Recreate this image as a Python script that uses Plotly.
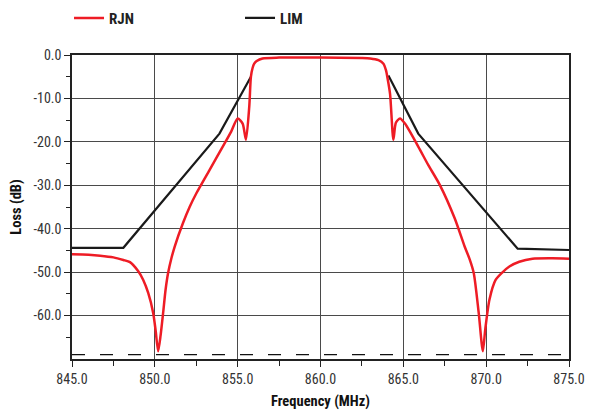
import plotly.graph_objects as go

# ---------------- data ----------------
rjn_freq = [845.0, 846.0, 846.7, 847.5, 848.1, 848.5, 849.0, 849.3, 849.6, 849.9, 850.05, 850.2,
            850.35, 850.5, 850.65, 850.8, 851.0, 851.2, 851.7, 852.1, 852.5, 853.3, 854.1, 854.6, 855.0, 855.3, 855.5,
            855.7, 855.8, 855.9, 856.0, 856.15, 856.5, 857.5, 860.0, 862.5, 863.0, 863.5, 863.8,
            863.95, 864.05, 864.2, 864.4, 864.55, 864.8, 865.1, 865.9, 866.5, 867.2, 868.1, 868.7, 869.0, 869.25,
            869.55, 869.8, 869.95, 870.2, 870.57, 871.0, 871.4, 872.0, 872.8, 874.0, 875.0]
rjn_db = [-45.9, -46.0, -46.2, -46.6, -47.2, -47.7, -49.8, -51.8, -54.8, -59.4, -63.5, -68.2,
          -64.5, -59.4, -54.0, -50.2, -46.8, -44.1, -38.7, -35.0, -31.9, -26.5, -21.1, -17.7, -14.6, -15.8, -19.5,
          -11.9, -5.0, -3.0, -2.0, -1.4, -0.8, -0.6, -0.6, -0.7, -0.8, -1.2, -2.0,
          -3.5, -5.4, -9.0, -19.5, -15.6, -14.6, -15.8, -21.1, -25.3, -29.9, -37.6, -44.1, -47.0, -50.2,
          -59.4, -68.2, -63.0, -56.3, -51.8, -50.0, -48.7, -47.6, -46.9, -46.8, -46.9]

lim_freq = [845.0, 848.1, 853.9, 855.8, None, 864.1, 865.9, 871.9, 875.0]
lim_db = [-44.4, -44.4, -18.1, -5.0, None, -4.7, -18.1, -44.6, -44.9]

spec_freq = [845.0, 875.0]
spec_db = [-69.0, -69.0]

x_tickvals = [845, 850, 855, 860, 865, 870, 875]
x_ticktext = ["845.0", "850.0", "855.0", "860.0", "865.0", "870.0", "875.0"]
y_tickvals = [0, -10, -20, -30, -40, -50, -60]
y_ticktext = ["0.0", "-10.0", "-20.0", "-30.0", "-40.0", "-50.0", "-60.0"]

FONT = "Liberation Sans Narrow, Arial Narrow, Roboto Condensed, Liberation Sans, sans-serif"
GRID = "#4a4a4a"

fig = go.Figure()
fig.add_trace(go.Scatter(x=spec_freq, y=spec_db, mode="lines", showlegend=False,
                         line=dict(color="#111111", width=1.3, dash="13px,15px"), hoverinfo="skip"))
fig.add_trace(go.Scatter(x=lim_freq, y=lim_db, mode="lines", name="LIM",
                         line=dict(color="#1a1a1a", width=2.2), connectgaps=False))
fig.add_trace(go.Scatter(x=rjn_freq, y=rjn_db, mode="lines", name="RJN",
                         line=dict(color="#ee1c25", width=2.5, shape="spline", smoothing=0.7)))

# the page body has an 8px margin, so the figure is sized 8px smaller
fig.update_layout(
    width=592, height=404,
    margin=dict(l=64, r=31, t=47, b=53, autoexpand=False),
    paper_bgcolor="white", plot_bgcolor="white",
    font=dict(family=FONT, size=14, color="#333333"),
    showlegend=True,
    legend=dict(orientation="h", x=-0.006, y=1.121, xanchor="left", yanchor="middle",
                traceorder="reversed", entrywidth=126, entrywidthmode="pixels",
                font=dict(family=FONT, size=15, color="#222222", weight="bold"),
                bgcolor="rgba(0,0,0,0)"),
)
fig.update_xaxes(
    range=[845, 875], tickvals=x_tickvals, ticktext=x_ticktext,
    showgrid=True, gridcolor=GRID, gridwidth=1.3,
    showline=True, linecolor="#222222", linewidth=1.5, mirror=True,
    ticks="outside", ticklen=6, tickcolor="#222222", tickwidth=1.2,
    minor=dict(dtick=2.5, ticks="outside", ticklen=5, tickcolor="#222222", showgrid=False),
    zeroline=False,
    tickfont=dict(family=FONT, size=14, color="#333333"),
    title=dict(text="Frequency (MHz)", standoff=10,
               font=dict(family=FONT, size=14.5, color="#111111", weight="bold")),
)
fig.update_yaxes(
    range=[-70, 0], tickvals=y_tickvals, ticktext=y_ticktext,
    showgrid=True, gridcolor=GRID, gridwidth=1.3,
    showline=True, linecolor="#222222", linewidth=1.5, mirror=True,
    ticks="outside", ticklen=6, tickcolor="#222222", tickwidth=1.2,
    minor=dict(tickvals=[-5, -15, -25, -35, -45, -55, -65], ticks="outside", ticklen=4,
               tickcolor="#222222", showgrid=False),
    zeroline=False,
    tickfont=dict(family=FONT, size=14, color="#333333"),
    title=dict(text="Loss (dB)", standoff=8,
               font=dict(family=FONT, size=14.5, color="#111111", weight="bold")),
)

fig.write_html("out.html")
